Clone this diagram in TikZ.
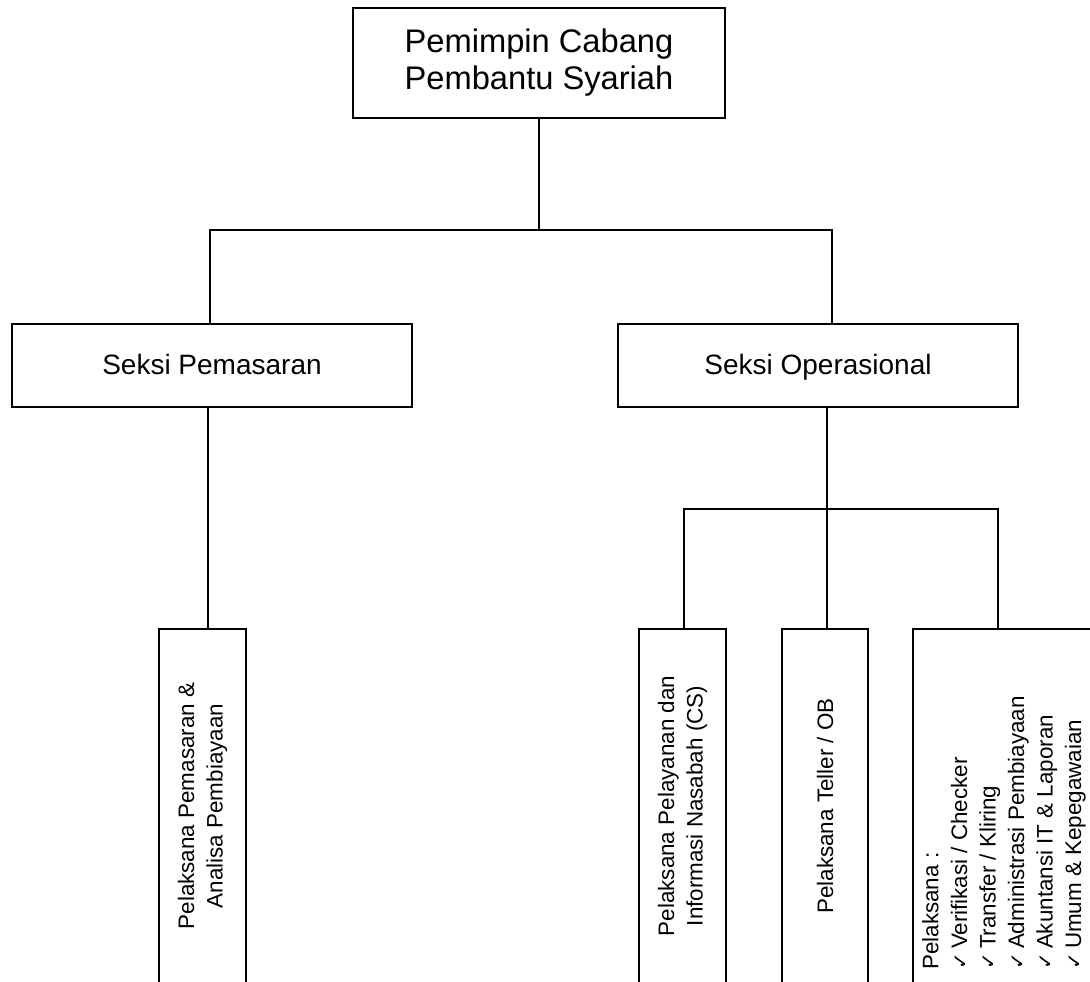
\documentclass[tikz,border=0pt]{standalone}
\usepackage{fontspec}
\setmainfont{Liberation Sans}
\newfontfamily\symfont{DejaVu Sans}
\newcommand\tick{{\symfont\fontsize{15}{15}\selectfont ✓}\hspace{3pt}}
\begin{document}
\begin{tikzpicture}[x=0.75pt, y=-0.75pt, line width=1.1pt,
  box/.style={draw, inner sep=0pt, align=center},
  headbox/.style={box, minimum width=279pt, minimum height=82.5pt,
    font=\fontsize{24.5}{27.75}\selectfont},
  secbox/.style={box, minimum width=300pt, minimum height=62.25pt,
    text height=14pt, text depth=1.2pt,
    font=\fontsize{21}{25}\selectfont},
  unitbox/.style={box, rotate=90, minimum width=265.5pt, minimum height=65.25pt,
    font=\fontsize{16.8}{21.4}\selectfont}]
\useasboundingbox (0,0) rectangle (1090,982);
\clip (0,0) rectangle (1090,982);

% head of the branch
\node[headbox] (head) at (539,63) {Pemimpin Cabang\\Pembantu Syariah};

% sections
\node[secbox] (pem) at (212,365.5) {Seksi Pemasaran};
\node[secbox] (ops) at (818,365.5) {Seksi Operasional};

% staff units (rotated text, bottoms run off the page)
\node[unitbox] (pl1) at (202.5,806) {Pelaksana Pemasaran \&\\Analisa Pembiayaan};
\node[unitbox] (cs) at (682.5,806) {Pelaksana Pelayanan dan\\Informasi Nasabah (CS)};
\node[unitbox, minimum height=64.5pt] (tel) at (825,806) {Pelaksana Teller / OB};
\node[unitbox, align=left, minimum width=306pt, minimum height=136.5pt] (lst) at (1004,833)
  {Pelaksana :\\\tick Verifikasi / Checker\\\tick Transfer / Kliring\\
   \tick Administrasi Pembiayaan\\\tick Akuntansi IT \& Laporan\\\tick Umum \& Kepegawaian};

% bus points of the connectors
\coordinate (b1l) at (210,230);
\coordinate (b1r) at (832,230);
\coordinate (pmx) at (208,0);
\coordinate (b2l) at (684,509);
\coordinate (b2m) at (827,509);
\coordinate (b2r) at (998,509);

% head to sections
\draw (head.south) -- (head.south |- b1l);
\draw (pem.north -| b1l) -- (b1l) -- (b1r) -- (ops.north -| b1r);

% marketing section to its unit
\draw (pem.south -| pmx) -- (pl1.east -| pmx);

% operations section to its units
\draw (ops.south -| b2m) -- (tel.east -| b2m);
\draw (cs.east -| b2l) -- (b2l) -- (b2r) -- (lst.east -| b2r);
\end{tikzpicture}
\end{document}
